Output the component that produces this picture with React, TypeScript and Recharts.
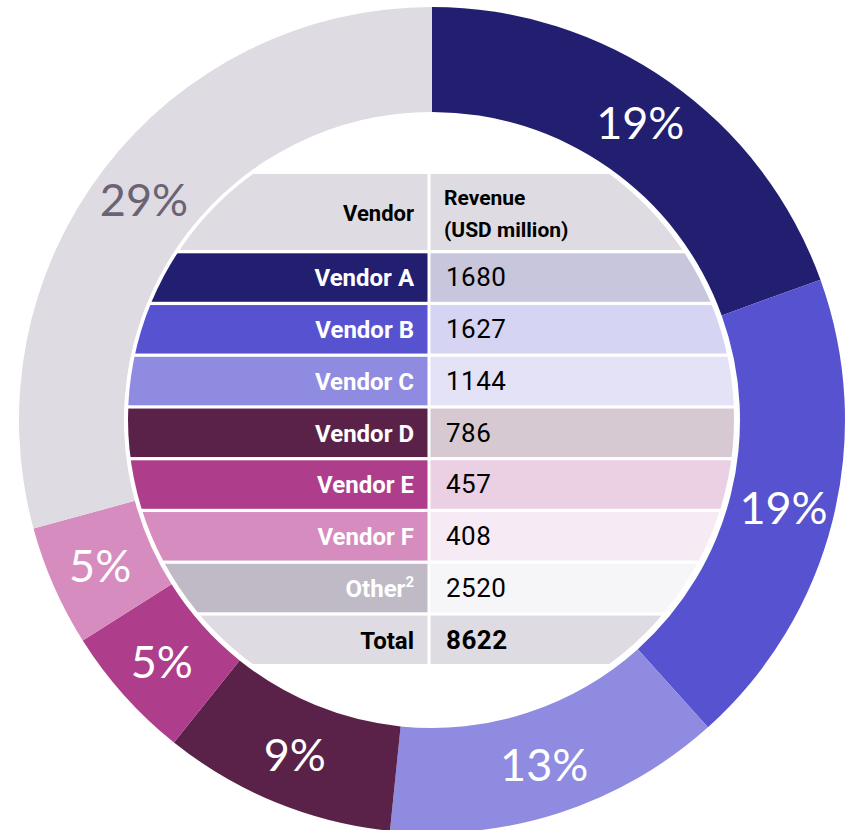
import React from 'react';
import { PieChart, Pie, Cell } from 'recharts';

const vendors = ['Vendor A', 'Vendor B', 'Vendor C', 'Vendor D', 'Vendor E', 'Vendor F', 'Other'];
const revenue = [1680, 1627, 1144, 786, 457, 408, 2520];
const totalRevenue = 8622;
const headerLabels = ['Vendor', 'Revenue', '(USD million)'];
const totalLabel = 'Total';

const ringColors = ['#231f70', '#5753d0', '#8f8be0', '#5b2249', '#ae3e8c', '#d68cbf', '#dedbe2'];
const tintColors = ['#c8c6dc', '#d5d4f3', '#e3e2f7', '#d7c9d2', '#ebcfe3', '#f6ebf4', '#f6f6f8'];
const leftCellColors = ['#231f70', '#5753d0', '#8f8be0', '#5b2249', '#ae3e8c', '#d68cbf', '#c0bac7'];
const pctColors = ['#ffffff', '#ffffff', '#ffffff', '#ffffff', '#ffffff', '#ffffff', '#6b6375'];

const data = vendors.map((name, i) => ({ name, value: revenue[i] }));

const CX = 432;
const CY = 420;
const RADIAN = Math.PI / 180;

const FONT_TABLE = 'Roboto, "Liberation Sans", sans-serif';
const FONT_PCT = 'Lato, "Open Sans", sans-serif';

const renderLabel = (props: any) => {
  const { cx, cy, midAngle, innerRadius, outerRadius, percent, index } = props;
  const r = (innerRadius + outerRadius) / 2 + 2;
  const x = cx + r * Math.cos(-midAngle * RADIAN);
  const y = cy + r * Math.sin(-midAngle * RADIAN);
  return (
    <text
      x={x}
      y={y + 16}
      fill={pctColors[index]}
      textAnchor="middle"
      fontFamily={FONT_PCT}
      fontWeight={400}
      fontSize={45}
    >
      {`${Math.round(percent * 100)}%`}
    </text>
  );
};

const Table = () => {
  const left = 100;
  const right = 770;
  const split1 = 427.5;
  const split2 = 430.5;
  const rowTop0 = 253.3;
  const pitch = 51.75;
  const rowH = 48.5;
  const headerTop = 174;
  const headerBottom = 250;
  const labelX = 414;
  const valueX = 446;
  const rows = vendors.map((v, i) => ({ v, i }));
  const totalTop = rowTop0 + vendors.length * pitch;
  return (
    <g>
      <defs>
        <clipPath id="tableClip">
          <circle cx={431} cy={419} r={303} />
        </clipPath>
      </defs>
      <g clipPath="url(#tableClip)">
        <rect x={left} y={headerTop} width={split1 - left} height={headerBottom - headerTop} fill="#dedbe2" />
        <rect x={split2} y={headerTop} width={right - split2} height={headerBottom - headerTop} fill="#dedbe2" />
        {rows.map(({ i }) => {
          const top = rowTop0 + i * pitch;
          return (
            <g key={i}>
              <rect x={left} y={top} width={split1 - left} height={rowH} fill={leftCellColors[i]} />
              <rect x={split2} y={top} width={right - split2} height={rowH} fill={tintColors[i]} />
            </g>
          );
        })}
        <rect x={left} y={totalTop} width={split1 - left} height={rowH} fill="#dedbe2" />
        <rect x={split2} y={totalTop} width={right - split2} height={rowH} fill="#dedbe2" />
      </g>
      <text x={labelX} y={221} textAnchor="end" fontFamily={FONT_TABLE} fontWeight={700} fontSize={22} fill="#000">
        {headerLabels[0]}
      </text>
      <text x={444} y={205} textAnchor="start" fontFamily={FONT_TABLE} fontWeight={700} fontSize={21} fill="#000">
        {headerLabels[1]}
      </text>
      <text x={444} y={237} textAnchor="start" fontFamily={FONT_TABLE} fontWeight={700} fontSize={21} fill="#000">
        {headerLabels[2]}
      </text>
      {rows.map(({ v, i }) => {
        const base = rowTop0 + i * pitch + rowH / 2 + 8.8;
        const isOther = i === vendors.length - 1;
        return (
          <g key={`t${i}`}>
            <text x={labelX} y={base} textAnchor="end" fontFamily={FONT_TABLE} fontWeight={700} fontSize={24} fill="#fff">
              {v}
              {isOther ? (
                <tspan fontSize={15} dy={-10}>2</tspan>
              ) : null}
            </text>
            <text x={valueX} y={base} textAnchor="start" fontFamily={FONT_TABLE} fontWeight={400} fontSize={26} letterSpacing={0.5} fill="#000">
              {revenue[i]}
            </text>
          </g>
        );
      })}
      <text x={labelX} y={totalTop + rowH / 2 + 8.8} textAnchor="end" fontFamily={FONT_TABLE} fontWeight={700} fontSize={24} fill="#000">
        {totalLabel}
      </text>
      <text x={valueX} y={totalTop + rowH / 2 + 8.8} textAnchor="start" fontFamily={FONT_TABLE} fontWeight={700} fontSize={26} letterSpacing={0.5} fill="#000">
        {totalRevenue}
      </text>
    </g>
  );
};

export default function App() {
  return (
    <div style={{ position: 'absolute', left: 0, top: 0, width: 849, height: 830, background: '#fff' }}>
      <PieChart width={849} height={830} margin={{ top: 0, right: 0, bottom: 0, left: 0 }}>
        <Pie
          data={data}
          dataKey="value"
          nameKey="name"
          cx={CX}
          cy={CY}
          innerRadius={308}
          outerRadius={413}
          startAngle={90}
          endAngle={-270}
          stroke="none"
          label={renderLabel}
          labelLine={false}
          isAnimationActive={false}
        >
          {data.map((d, i) => (
            <Cell key={d.name} fill={ringColors[i]} />
          ))}
        </Pie>
        <Table />
      </PieChart>
    </div>
  );
}
